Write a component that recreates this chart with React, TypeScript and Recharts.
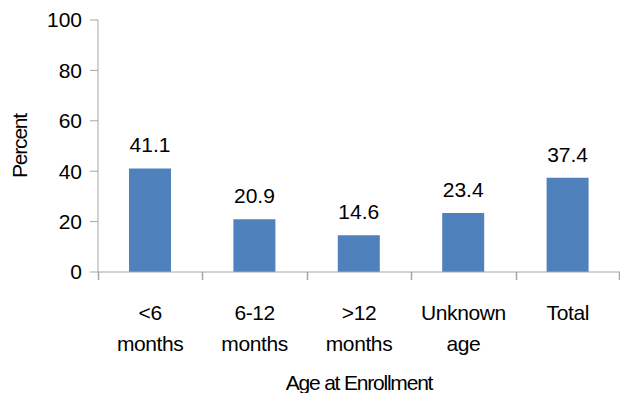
import React from "react";
import { BarChart, Bar, XAxis, YAxis, LabelList, Label } from "recharts";

const categories = ["<6 months", "6-12 months", ">12 months", "Unknown age", "Total"];
const tickLines = [["<6", "months"], ["6-12", "months"], [">12", "months"], ["Unknown", "age"], ["Total"]];
const percents = [41.1, 20.9, 14.6, 23.4, 37.4];
const yTicks = [0, 20, 40, 60, 80, 100];

const data = categories.map((name, i) => ({ name, value: percents[i] }));

const FONT = '"Liberation Sans", Arial, sans-serif';
const AXIS = "#a6a6a6";
const CHART_W = 620;
const Y_W = 98;
const BAND = (CHART_W - Y_W) / categories.length;

function CategoryTick(props: any) {
  const x = Number(props.x);
  const y = Number(props.y);
  const index = props.index;
  const lines = tickLines[index] || [];
  const half = BAND / 2;
  const left = Math.round(x - half) + 0.5;
  const right = Math.round(x + half) - 0.5;
  return (
    <g>
      <path d={`M${left},${y}V${y + 8}`} stroke={AXIS} strokeWidth={1.5} fill="none" />
      {index === categories.length - 1 && (
        <path d={`M${right},${y}V${y + 8}`} stroke={AXIS} strokeWidth={1.5} fill="none" />
      )}
      <text x={x} y={y + 48} textAnchor="middle" fontSize={21} fill="#000" fontFamily={FONT} letterSpacing={-0.4}>
        {lines.map((l, i) => (
          <tspan key={i} x={x} dy={i === 0 ? 0 : 31}>{l}</tspan>
        ))}
      </text>
    </g>
  );
}

export default function App() {
  return (
    <div style={{ position: "absolute", left: 0, top: 0, background: "#fff" }}>
      <BarChart width={CHART_W} height={393} data={data} margin={{ top: 20, right: 0, left: 0, bottom: 0 }}>
        <XAxis
          dataKey="name"
          height={121}
          axisLine={{ stroke: AXIS }}
          tickLine={false}
          tickSize={0}
          tickMargin={0}
          interval={0}
          tick={<CategoryTick />}
        >
          <Label value="Age at Enrollment" position="insideBottom" offset={0} dy={-3} fontSize={21} fill="#000" fontFamily={FONT} letterSpacing={-1.2} />
        </XAxis>
        <YAxis
          width={Y_W}
          domain={[0, 100]}
          ticks={yTicks}
          interval={0}
          axisLine={{ stroke: AXIS }}
          tickLine={{ stroke: AXIS }}
          tickSize={8}
          tickMargin={8}
          tick={{ fontSize: 21, fill: "#000", fontFamily: FONT }}
        >
          <Label value="Percent" angle={-90} position="insideLeft" offset={0} dx={20} fontSize={21} fill="#000" fontFamily={FONT} letterSpacing={-1.2} style={{ textAnchor: "middle" }} />
        </YAxis>
        <Bar dataKey="value" fill="#4f81bd" isAnimationActive={false} barSize={42}>
          <LabelList dataKey="value" position="top" offset={16} fontSize={21} fill="#000" fontFamily={FONT} formatter={(v: any) => Number(v).toFixed(1)} />
        </Bar>
      </BarChart>
    </div>
  );
}
